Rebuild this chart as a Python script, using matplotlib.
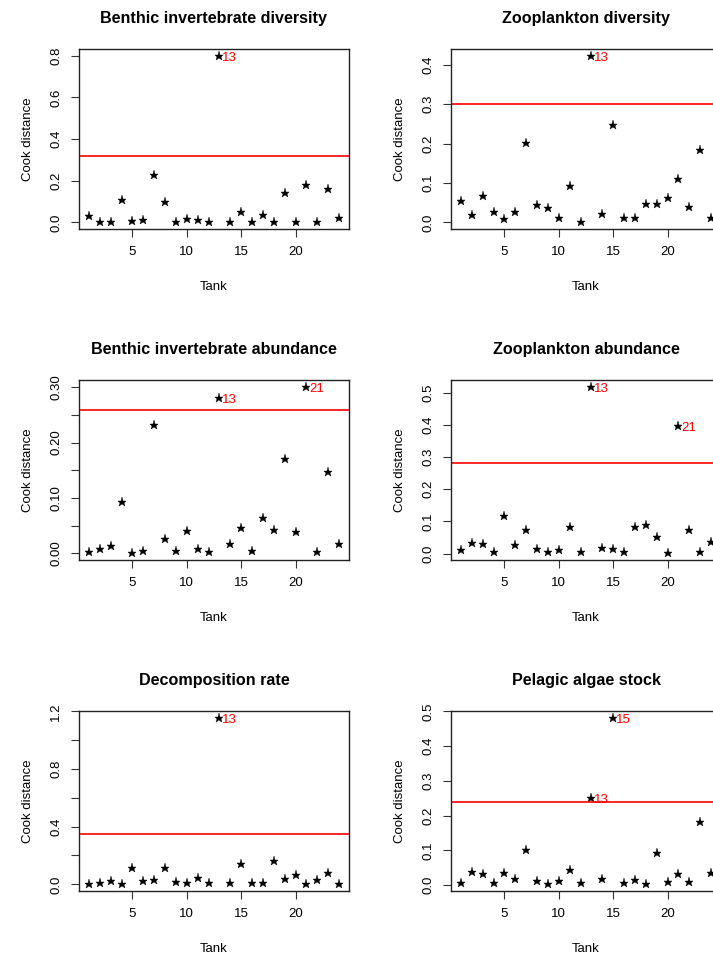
import numpy as np
import matplotlib
matplotlib.use("Agg")
import matplotlib.pyplot as plt

plt.rcParams['font.family'] = ['Liberation Sans', 'DejaVu Sans']

tank = np.arange(1, 25)

# Cook distances per response
benthic_div = [0.029, 0.003, 0.0, 0.109, 0.008, 0.013, 0.225, 0.098, 0.003, 0.018, 0.010, 0.003,
               0.800, 0.0, 0.050, 0.003, 0.037, 0.0, 0.141, 0.003, 0.177, 0.0, 0.161, 0.021]
zoo_div = [0.055, 0.019, 0.068, 0.025, 0.008, 0.026, 0.201, 0.044, 0.036, 0.010, 0.092, 0.0,
           0.423, 0.021, 0.247, 0.010, 0.010, 0.047, 0.047, 0.063, 0.110, 0.038, 0.183, 0.011]
benthic_abu = [0.002, 0.007, 0.014, 0.093, 0.0, 0.004, 0.231, 0.025, 0.004, 0.041, 0.007, 0.002,
               0.281, 0.017, 0.045, 0.004, 0.063, 0.042, 0.171, 0.038, 0.301, 0.002, 0.146, 0.016]
zoo_abu = [0.010, 0.033, 0.030, 0.005, 0.116, 0.026, 0.072, 0.015, 0.005, 0.012, 0.082, 0.005,
           0.519, 0.019, 0.013, 0.005, 0.082, 0.090, 0.052, 0.001, 0.397, 0.072, 0.004, 0.035]
decomp = [0.0, 0.007, 0.026, 0.0, 0.112, 0.023, 0.033, 0.112, 0.019, 0.007, 0.047, 0.007,
          1.156, 0.007, 0.144, 0.007, 0.007, 0.165, 0.037, 0.065, 0.0, 0.030, 0.082, 0.0]
algae = [0.006, 0.037, 0.031, 0.006, 0.035, 0.017, 0.100, 0.012, 0.002, 0.012, 0.043, 0.005,
         0.252, 0.017, 0.482, 0.006, 0.014, 0.004, 0.093, 0.008, 0.033, 0.010, 0.181, 0.034]

titles = ["Benthic invertebrate diversity", "Zooplankton diversity",
          "Benthic invertebrate abundance", "Zooplankton abundance",
          "Decomposition rate", "Pelagic algae stock"]
series = [benthic_div, zoo_div, benthic_abu, zoo_abu, decomp, algae]
thresholds = [0.318, 0.300, 0.259, 0.283, 0.352, 0.240]
flagged = [[13], [13], [13, 21], [13, 21], [13], [15, 13]]

yticks = [[0.0, 0.2, 0.4, 0.6, 0.8],
          [0.0, 0.1, 0.2, 0.3, 0.4],
          [0.0, 0.05, 0.10, 0.15, 0.20, 0.25, 0.30],
          [0.0, 0.1, 0.2, 0.3, 0.4, 0.5],
          [0.0, 0.2, 0.4, 0.6, 0.8, 1.0, 1.2],
          [0.0, 0.1, 0.2, 0.3, 0.4, 0.5]]
yticklabels = [["0.0", "0.2", "0.4", "0.6", "0.8"],
               ["0.0", "0.1", "0.2", "0.3", "0.4"],
               ["0.00", "", "0.10", "", "0.20", "", "0.30"],
               ["0.0", "0.1", "0.2", "0.3", "0.4", "0.5"],
               ["0.0", "", "0.4", "", "0.8", "", "1.2"],
               ["0.0", "0.1", "0.2", "0.3", "0.4", "0.5"]]

W, H = 713, 956
fig = plt.figure(figsize=(W / 100, H / 100), dpi=100)

lefts = [79, 451]
tops = [49, 380, 711]
aw, ah = 270, 180

for i in range(6):
    r, c = divmod(i, 2)
    ax = fig.add_axes([lefts[c] / W, 1 - (tops[r] + ah) / H, aw / W, ah / H])
    y = np.array(series[i])
    ax.plot(tank, y, linestyle='none', marker='*', color='black', markersize=6.8,
            markeredgewidth=0.3)
    ax.axhline(thresholds[i], color='red', lw=1.2)
    for t in flagged[i]:
        ax.annotate(str(t), (t, y[t - 1]), xytext=(2.0, -1.5), textcoords='offset points',
                    color='red', fontsize=9.5, ha='left', va='center')

    ax.set_xlim(1 - 0.92, 24 + 0.92)
    lo, hi = y.min(), y.max()
    pad = 0.04 * (hi - lo)
    ax.set_ylim(lo - pad, hi + pad)

    ax.set_xticks([5, 10, 15, 20])
    ax.set_yticks(yticks[i])
    ax.set_yticklabels(yticklabels[i])
    ax.tick_params(direction='out', length=6, width=0.8, labelsize=9.5, color='#333333')
    ax.tick_params(axis='x', pad=6)
    ax.tick_params(axis='y', pad=6)
    for lab in ax.get_yticklabels():
        lab.set_rotation(90)
        lab.set_va('center')
        lab.set_ha('right')
    for sp in ax.spines.values():
        sp.set_linewidth(1.0)
        sp.set_color('#222222')

    ax.set_title(titles[i], fontsize=11.6, fontweight='bold', pad=19)
    ax.set_xlabel("Tank", fontsize=9.5)
    ax.xaxis.set_label_coords(0.5, -58 / ah)
    ax.xaxis.label.set_va('center')
    ax.set_ylabel("Cook distance", fontsize=9.5)
    ax.yaxis.set_label_coords(-51 / aw, 0.5)
    ax.yaxis.label.set_va('center')

fig.savefig("out.png", dpi=100)
